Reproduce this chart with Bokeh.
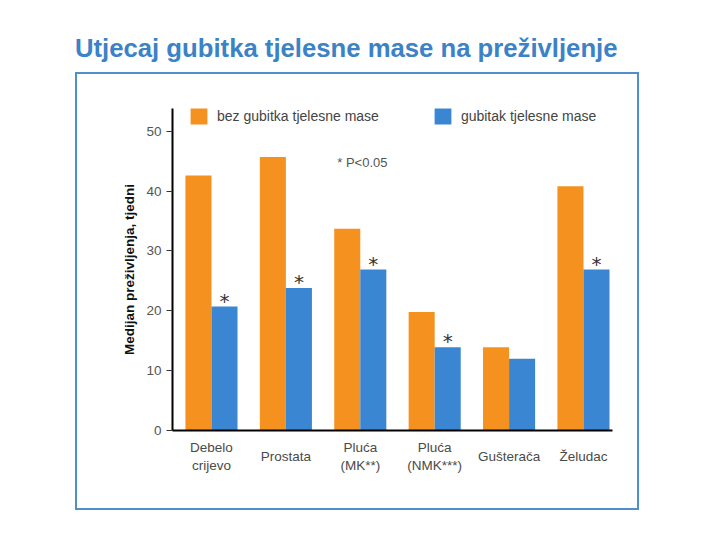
from bokeh.plotting import figure
from bokeh.models import (Div, ColumnDataSource, FixedTicker, Range1d, Legend,
                          LegendItem, Label, LinearAxis)
from bokeh.layouts import column
from bokeh.transform import dodge
from bokeh.embed import file_html
from bokeh.resources import INLINE
from bokeh.core.properties import value

# ---- data ----
categories = ["Debelo\ncrijevo", "Prostata", "Pluća\n(MK**)", "Pluća\n(NMK***)",
              "Gušterača", "Želudac"]
no_weight_loss = [42.6, 45.7, 33.7, 19.8, 13.9, 40.8]
weight_loss = [20.7, 23.8, 26.9, 13.9, 12.0, 26.9]
significant = [True, True, True, True, False, True]
y_ticks = [0, 10, 20, 30, 40, 50]
series_names = ["bez gubitka tjelesne mase", "gubitak tjelesne mase"]
title_text = "Utjecaj gubitka tjelesne mase na preživljenje"
y_label = "Medijan preživljenja, tjedni"
note_text = "* P<0.05"

ORANGE = "#f5911e"
BLUE = "#3a86d3"
FONT = "Liberation Sans"

idx = list(range(len(categories)))
src = ColumnDataSource(dict(idx=idx, a=no_weight_loss, b=weight_loss))
sig_src = ColumnDataSource(dict(
    idx=[i for i, s in zip(idx, significant) if s],
    b=[v for v, s in zip(weight_loss, significant) if s],
    t=["*" for s in significant if s]))

title_div = Div(text=title_text, width=650, height=42, margin=(30, 0, 0, 75),
                styles={"font-family": FONT, "font-weight": "bold",
                        "font-size": "25.7px", "color": "#3b82c6",
                        "white-space": "nowrap"})

p = figure(width=564, height=438,
           x_range=Range1d(-0.524, 5.39), y_range=Range1d(0, 53.8),
           output_backend="svg", toolbar_location=None,
           min_border_left=95, min_border_right=29,
           min_border_top=34, min_border_bottom=82,
           margin=(0, 0, 0, 75),
           styles={"border": "2px solid #4f8fcd"})
p.xgrid.grid_line_color = None
p.ygrid.grid_line_color = None
p.outline_line_color = None
p.background_fill_color = "white"
p.border_fill_color = "white"

bw = 0.35
r1 = p.vbar(x=dodge("idx", -bw / 2, range=p.x_range), top="a", width=bw,
            source=src, fill_color=ORANGE, line_color=None)
r2 = p.vbar(x=dodge("idx", bw / 2, range=p.x_range), top="b", width=bw,
            source=src, fill_color=BLUE, line_color=None)

p.text(x=dodge("idx", bw / 2, range=p.x_range), y="b", text="t", source=sig_src,
       text_font=value("DejaVu Sans"), text_font_size="20px", text_color="#333333",
       text_align="center", text_baseline="alphabetic", y_offset=-6)

p.add_layout(Label(x=1.69, y=44.8, text=note_text, text_font=FONT,
                   text_font_size="13px", text_color="#555555",
                   text_baseline="middle"))

# y axis
yax = p.left[0]
yax.ticker = FixedTicker(ticks=y_ticks)
yax.minor_tick_line_color = None
yax.major_tick_in = 0
yax.major_tick_out = 6
yax.major_label_standoff = 5
yax.axis_line_width = 2
yax.axis_line_color = "black"
yax.major_tick_line_color = "#333333"
yax.major_label_text_font = FONT
yax.major_label_text_font_size = "13.5px"
yax.major_label_text_color = "#555555"
yax.axis_label = y_label
yax.axis_label_text_font = FONT
yax.axis_label_text_font_style = "bold"
yax.axis_label_text_font_size = "13.5px"
yax.axis_label_text_color = "#111111"
yax.axis_label_standoff = 6

# x axis: two-line category labels on the main axis
two_line = [i for i, c in zip(idx, categories) if "\n" in c]
one_line = [i for i, c in zip(idx, categories) if "\n" not in c]

xax = p.below[0]
xax.ticker = FixedTicker(ticks=two_line)
xax.major_label_overrides = {i: categories[i] for i in two_line}
xax.major_tick_line_color = None
xax.minor_tick_line_color = None
xax.axis_line_width = 2
xax.axis_line_color = "black"
xax.major_label_standoff = 3
xax.major_label_text_font = FONT
xax.major_label_text_font_size = "13.5px"
xax.major_label_text_color = "#4a4a4a"

# single-line category labels, vertically centred on the two-line ones
xax2 = LinearAxis(ticker=FixedTicker(ticks=one_line),
                  major_label_overrides={i: categories[i] for i in one_line},
                  axis_line_color=None, major_tick_line_color=None,
                  minor_tick_line_color=None, major_label_standoff=-33,
                  major_label_text_font=FONT,
                  major_label_text_font_size="13.5px",
                  major_label_text_color="#4a4a4a")
p.add_layout(xax2, "below")

legend = Legend(items=[LegendItem(label=series_names[0], renderers=[r1]),
                       LegendItem(label=series_names[1], renderers=[r2])],
                orientation="horizontal", location=(16, 304), spacing=53,
                glyph_width=21, glyph_height=20, label_standoff=8,
                padding=0, margin=0, border_line_color=None,
                background_fill_alpha=0, label_text_font=FONT,
                label_text_font_size="14px", label_text_color="#444444")
p.add_layout(legend)

layout = column(title_div, p, spacing=0)
open("out.html", "w").write(file_html(layout, INLINE))
